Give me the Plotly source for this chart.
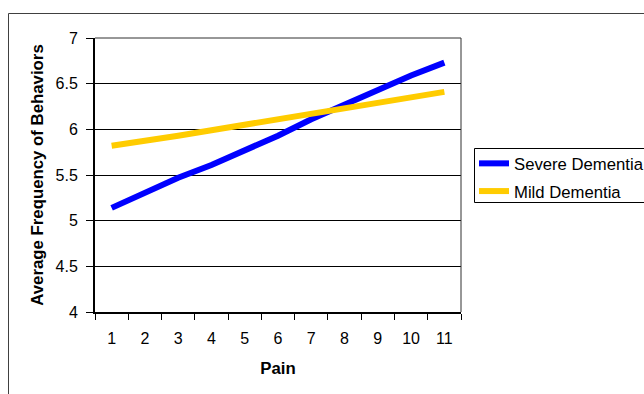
import plotly.graph_objects as go

pain = ["1", "2", "3", "4", "5", "6", "7", "8", "9", "10", "11"]
severe = [5.14, 5.30, 5.47, 5.61, 5.77, 5.93, 6.11, 6.27, 6.44, 6.59, 6.73]
mild = [5.82, 5.87, 5.93, 5.99, 6.05, 6.10, 6.16, 6.22, 6.28, 6.34, 6.41]
y_ticks = [4, 4.5, 5, 5.5, 6, 6.5, 7]
y_ticklabels = ["4", "4.5", "5", "5.5", "6", "6.5", "7"]

FONT = "Liberation Sans, Arial, sans-serif"
W, H = 644, 394
PL, PR, PT, PB = 95, 461, 38, 312  # plot area on screen


def px(sx):
    return (sx - PL) / (PR - PL)


def py(sy):
    return (PB - sy) / (PB - PT)


fig = go.Figure()
fig.add_trace(go.Scatter(x=pain, y=severe, mode="lines", name="Severe Dementia",
                         legendgroup="a",
                         line=dict(color="#0000FF", width=6)))
fig.add_trace(go.Scatter(x=pain, y=mild, mode="lines", name="Mild Dementia",
                         legendgroup="b",
                         line=dict(color="#FFCC00", width=6)))

fig.update_layout(
    width=W, height=H,
    margin=dict(l=PL, r=W - PR, t=PT, b=H - PB),
    paper_bgcolor="white", plot_bgcolor="white",
    font=dict(family=FONT, size=16, color="black"),
    showlegend=True,
    legend=dict(xref="container", yref="container",
                x=474 / W, y=1 - 146 / H,
                xanchor="left", yanchor="top",
                borderwidth=0, bgcolor="rgba(0,0,0,0)",
                font=dict(family=FONT, size=16.7, color="black"),
                tracegroupgap=3),
    xaxis=dict(type="category", range=[-0.5, 10.5], automargin=False,
               showgrid=False, zeroline=False,
               showline=True, linecolor="black", linewidth=2,
               ticks="outside", tickson="boundaries", ticklen=6, tickcolor="black",
               ticklabelstandoff=11,
               title=dict(text="<b>Pain</b>", font=dict(size=16.8), standoff=16)),
    yaxis=dict(range=[4, 7], automargin=False, tickvals=y_ticks, ticktext=y_ticklabels,
               showgrid=True, gridcolor="black", gridwidth=1, zeroline=False,
               showline=True, linecolor="black", linewidth=2,
               ticks="outside", ticklen=7, tickcolor="black",
               ticklabelstandoff=5,
               title=dict(text="<b>Average Frequency of Behaviors</b>", font=dict(size=16.8), standoff=8)),
    shapes=[
        dict(type="line", xref="paper", yref="paper", x0=0, x1=1, y0=1, y1=1,
             line=dict(color="#303030", width=1)),
        dict(type="line", xref="paper", yref="paper", x0=1, x1=1, y0=0, y1=1,
             line=dict(color="#303030", width=1)),
        # outer chart border (right and bottom edges fall outside the picture)
        dict(type="line", xref="paper", yref="paper",
             x0=px(8.5), x1=px(700), y0=py(13.5), y1=py(13.5),
             line=dict(color="#404040", width=1)),
        dict(type="line", xref="paper", yref="paper",
             x0=px(8.5), x1=px(8.5), y0=py(13.5), y1=py(420),
             line=dict(color="#404040", width=1)),
        # legend box
        dict(type="rect", xref="paper", yref="paper",
             x0=px(474.5), x1=px(700), y0=py(148.5), y1=py(202.5),
             line=dict(color="black", width=1), layer="below"),
    ],
)

fig.write_html("out.html",
               config={"displayModeBar": False},
               post_script="document.body.style.margin='0';document.body.style.overflow='hidden';")
